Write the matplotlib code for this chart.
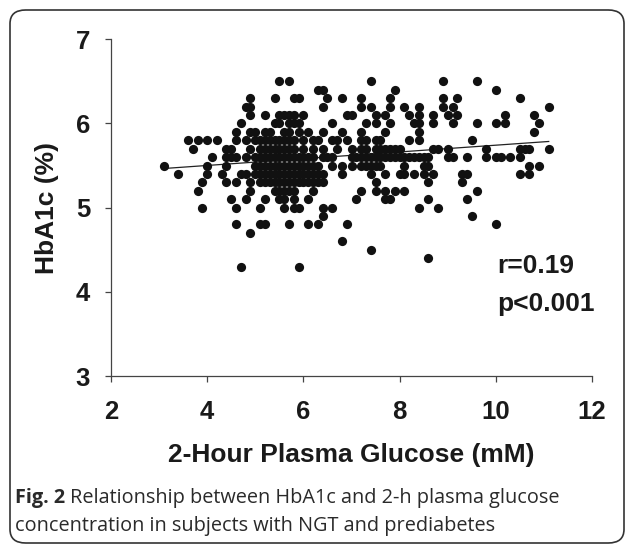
import matplotlib.pyplot as plt
import numpy as np
from matplotlib.patches import FancyBboxPatch

# 2-h glucose values (mM), grouped by HbA1c level (%)
g65 = [5.5, 5.7, 7.4, 8.9, 9.6]
g64 = [6.3, 6.4, 7.9, 10.0]
g63 = [4.9, 5.4, 5.8, 5.9, 6.5, 6.8, 7.2, 7.8, 8.9, 9.2, 10.5]
g62 = [4.8, 4.9, 6.4, 7.2, 7.4, 7.8, 8.1, 8.4, 8.9, 9.1, 11.1]
g61 = [4.9, 5.2, 5.5, 5.6, 5.7, 5.8, 6.0, 6.9, 7.0, 7.5, 7.7, 8.2, 8.4, 8.7, 9.0, 9.2, 10.2, 10.8]
g60 = [4.7, 5.4, 5.5, 5.7, 5.8, 5.9, 6.6, 7.3, 7.5, 7.8, 8.3, 8.4, 8.7, 9.1, 9.6, 10.0, 10.2, 10.9]
g59 = [4.6, 4.9, 5.0, 5.2, 5.3, 5.6, 5.7, 5.9, 6.1, 6.4, 6.8, 7.2, 7.7, 8.4, 10.8]
g58 = [3.6, 3.8, 4.0, 4.2, 4.6, 4.8, 5.0, 5.1, 5.2, 5.3, 5.4, 5.5, 5.6, 5.7, 5.8, 6.0, 6.2, 6.3,
       6.6, 6.7, 6.9, 7.2, 7.3, 7.5, 7.6, 8.2, 8.4, 9.5]
g57 = [3.7, 4.4, 4.5, 4.9, 5.1, 5.2, 5.3, 5.4, 5.5, 5.6, 5.7, 5.8, 6.0, 6.2, 6.4, 6.7, 7.0, 7.2,
       7.3, 7.5, 7.6, 7.7, 7.8, 7.9, 8.0, 8.7, 8.8, 9.0, 9.8, 10.5, 10.6, 10.7, 11.1]
g56 = [4.1, 4.4, 4.5, 4.6, 4.8, 5.0, 5.1, 5.2, 5.3, 5.4, 5.5, 5.6, 5.7, 5.8, 5.9, 6.0, 6.1, 6.2,
       6.4, 6.5, 6.6, 7.0, 7.1, 7.2, 7.3, 7.4, 7.5, 7.6, 7.7, 7.8, 7.9, 8.0, 8.1, 8.2, 8.3, 8.4,
       8.5, 8.6, 9.0, 9.1, 9.4, 9.8, 10.0, 10.1, 10.3, 10.5]
g55 = [3.1, 4.0, 4.4, 5.0, 5.1, 5.2, 5.3, 5.4, 5.5, 5.6, 5.7, 5.8, 5.9, 6.0, 6.1, 6.2, 6.3, 6.6,
       6.8, 7.0, 7.2, 7.3, 7.4, 7.5, 7.6, 8.1, 8.5, 8.6, 10.7, 10.9]
g54 = [3.4, 4.0, 4.3, 4.7, 4.8, 5.0, 5.1, 5.2, 5.3, 5.4, 5.5, 5.6, 5.7, 5.8, 5.9, 6.0, 6.1, 6.2,
       6.3, 6.4, 6.8, 7.4, 7.7, 8.0, 8.1, 8.3, 8.5, 8.7, 9.3, 9.4, 10.5, 10.7]
g53 = [3.9, 4.4, 4.6, 4.9, 5.1, 5.2, 5.3, 5.4, 5.5, 5.6, 5.7, 5.8, 5.9, 6.0, 6.1, 6.2, 6.3, 6.4,
       7.5, 8.6, 9.3]
g52 = [3.8, 4.9, 5.4, 5.5, 5.6, 5.7, 5.8, 6.2, 7.2, 7.5, 7.7, 7.9, 8.1, 9.6]
g51 = [4.5, 4.8, 5.2, 5.5, 5.6, 5.8, 6.1, 7.1, 7.7, 7.8, 8.6, 9.4]
g50 = [3.9, 4.6, 5.1, 5.6, 5.8, 5.9, 6.4, 6.6, 8.4, 8.8]
g49 = [6.4, 9.5]
g48 = [4.6, 5.1, 5.2, 5.7, 6.1, 6.3, 6.9, 10.0]
g47 = [4.9]
g46 = [6.8]
g45 = [7.4]
g44 = [8.6]
g43 = [4.7, 5.9]

levels = [6.5, 6.4, 6.3, 6.2, 6.1, 6.0, 5.9, 5.8, 5.7, 5.6, 5.5, 5.4, 5.3, 5.2, 5.1, 5.0,
          4.9, 4.8, 4.7, 4.6, 4.5, 4.4, 4.3]
groups = [g65, g64, g63, g62, g61, g60, g59, g58, g57, g56, g55, g54, g53, g52, g51, g50,
          g49, g48, g47, g46, g45, g44, g43]

x = []
y = []
for lv, g in zip(levels, groups):
    x += g
    y += [lv] * len(g)
x = np.array(x)
y = np.array(y)

W, H = 627, 546
fig = plt.figure(figsize=(W / 100, H / 100), dpi=100)
ax = fig.add_axes([111 / W, 1 - 376 / H, (592 - 111) / W, (376 - 39.3) / H])

ax.scatter(x, y, s=44, color='#111111', linewidths=0, zorder=3)

# linear trend
k, b = np.polyfit(x, y, 1)
xl = np.array([x.min(), x.max()])
ax.plot(xl, k * xl + b, color='#222222', lw=0.9, zorder=2)

ax.set_xlim(2, 12)
ax.set_ylim(3, 7)
ax.set_xticks([2, 4, 6, 8, 10, 12])
ax.set_yticks([3, 4, 5, 6, 7])
for s in ['top', 'right']:
    ax.spines[s].set_visible(False)
for s in ['left', 'bottom']:
    ax.spines[s].set_color('#444444')
    ax.spines[s].set_linewidth(0.9)
ax.tick_params(direction='out', length=4, width=0.9, color='#444444')
ax.tick_params(axis='x', pad=13)
ax.tick_params(axis='y', pad=11)
for lab in ax.get_xticklabels() + ax.get_yticklabels():
    lab.set_fontfamily('Liberation Sans')
    lab.set_fontweight('bold')
    lab.set_fontsize(18.5)
    lab.set_color('#1a1a1a')

ax.set_xlabel('2-Hour Plasma Glucose (mM)', family='Liberation Sans', weight='bold',
              fontsize=19, color='#1a1a1a', labelpad=14)
ax.set_ylabel('HbA1c (%)', family='Liberation Sans', weight='bold',
              fontsize=19, color='#1a1a1a', labelpad=12)

ax.text(10.03, 4.22, 'r=0.19', family='Liberation Sans', weight='bold', fontsize=19,
        color='#1a1a1a', ha='left', va='baseline')
ax.text(10.03, 3.77, 'p<0.001', family='Liberation Sans', weight='bold', fontsize=19,
        color='#1a1a1a', ha='left', va='baseline')

# rounded frame around the figure
frame = FancyBboxPatch((10 / W, 3 / H), 614 / W, 533 / H,
                       boxstyle='round,pad=0,rounding_size=0.025',
                       transform=fig.transFigure, fill=False, ec='#333333', lw=1.2,
                       clip_on=False)
fig.patches.append(frame)

# caption
cap_font = dict(family='Open Sans', fontsize=14.3, color='#2a2a2a')
t1 = fig.text(15 / W, 1 - 498 / H, 'Fig. 2', weight='bold', va='center', **cap_font)
fig.canvas.draw()
bb = t1.get_window_extent()
fig.text((bb.x1 + 5) / W, 1 - 498 / H,
         'Relationship between HbA1c and 2-h plasma glucose', va='center', **cap_font)
fig.text(15 / W, 1 - 526 / H, 'concentration in subjects with NGT and prediabetes',
         va='center', **cap_font)

fig.savefig('out.png', dpi=100)
